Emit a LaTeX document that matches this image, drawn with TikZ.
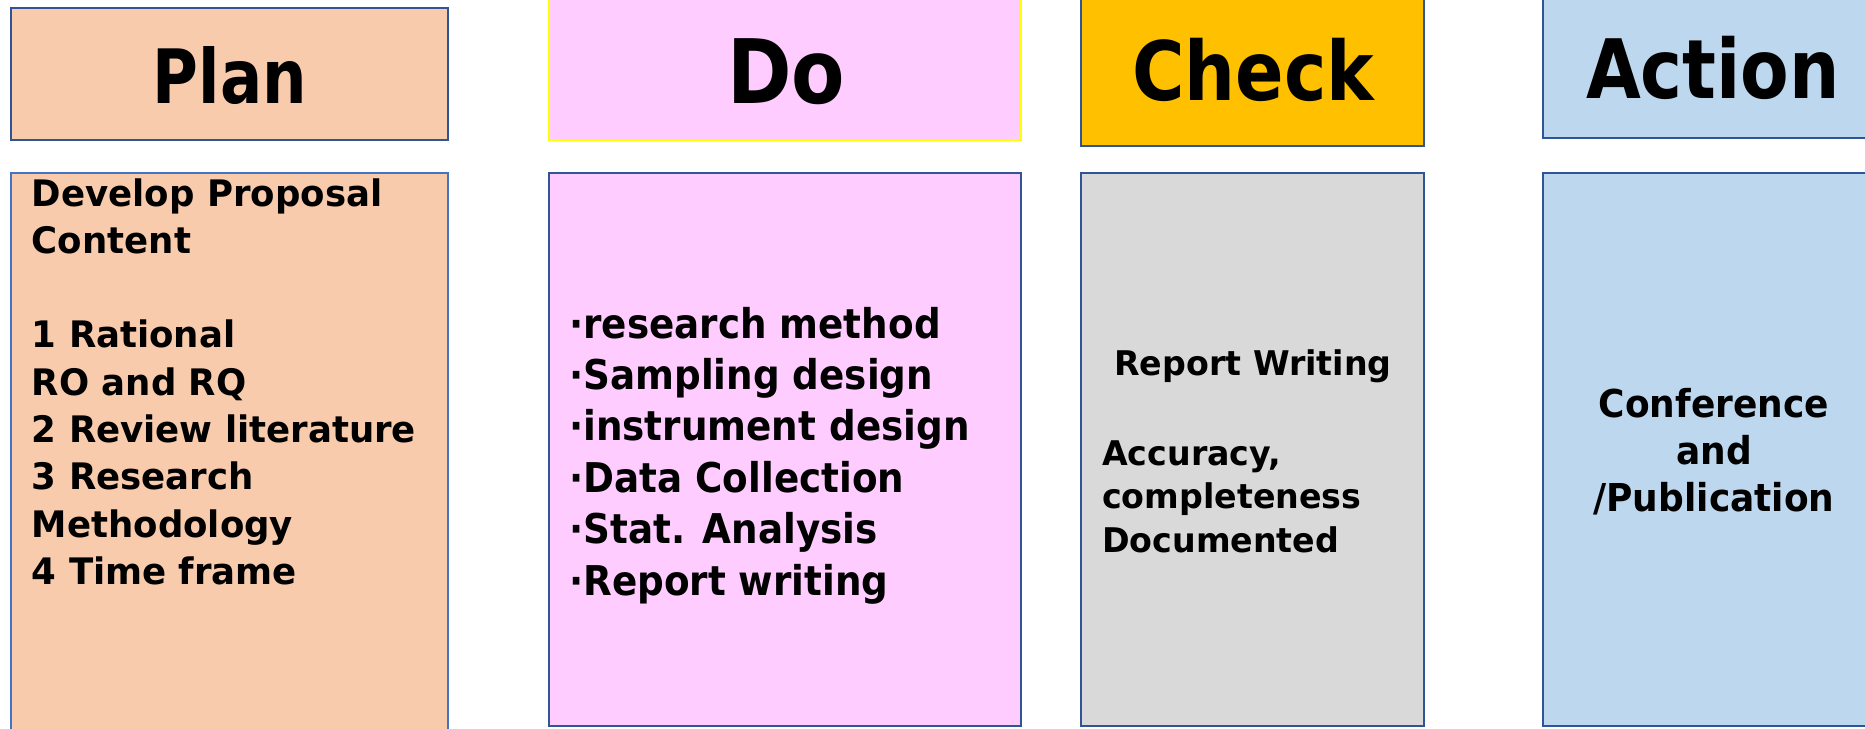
\documentclass[tikz,border=0pt]{standalone}
\usepackage{fontspec}
\usepackage{graphicx}
\setmainfont{DejaVu Sans}[FakeStretch=0.91]
\newfontfamily\titlefont{DejaVu Sans}
\definecolor{bordblue}{HTML}{2F5597}
\definecolor{lightblue}{HTML}{4472C4}
\definecolor{peach}{HTML}{F8CBAD}
\definecolor{pinkfill}{HTML}{FFCCFF}
\definecolor{yellowline}{HTML}{FFFF00}
\definecolor{amber}{HTML}{FFC000}
\definecolor{greyfill}{HTML}{D9D9D9}
\definecolor{skyfill}{HTML}{BDD7EE}
\newcommand{\dotbul}{·}
\tikzset{
  panel/.style={draw=bordblue, line width=2pt},
  titletext/.style={anchor=base, inner sep=0pt, font=\titlefont\bfseries},
  bodytext/.style={inner sep=0pt, font=\bfseries},
}
\begin{document}
\begin{tikzpicture}[x=1pt,y=-1pt]
\useasboundingbox (0,0) rectangle (1865,728);
\clip (0,0) rectangle (1865,728);
% top boxes
\draw[panel, fill=peach] (10.7,8.3) rectangle (448.4,140.4);
\draw[panel, draw=yellowline, fill=pinkfill] (548.5,-5) rectangle (1021,140.4);
\draw[panel, fill=amber] (1081,-5) rectangle (1424,146);
\draw[panel, fill=skyfill] (1543,-5) rectangle (1875,137.5);
% lower boxes
\draw[panel, draw=lightblue, fill=peach] (10.7,172.5) rectangle (448.4,740);
\draw[panel, fill=pinkfill] (548.5,172.5) rectangle (1021,725.6);
\draw[panel, fill=greyfill] (1081,172.5) rectangle (1424,725.6);
\draw[panel, fill=skyfill] (1543,172.5) rectangle (1875,725.6);
% titles
\node[titletext] (plan) at (230,103) {\resizebox{154pt}{\height}{\fontsize{75}{75}\selectfont Plan}};
\node[titletext] (do) at (786,103) {\resizebox{118pt}{\height}{\fontsize{89}{89}\selectfont Do}};
\node[titletext] (check) at (1253,100) {\resizebox{242pt}{\height}{\fontsize{82}{82}\selectfont Check}};
\node[titletext] (action) at (1713,98) {\resizebox{254pt}{\height}{\fontsize{82}{82}\selectfont Action}};
% bodies
\node[bodytext, anchor=base west] (planbody) at (31.7,206) {\scalebox{1.07}[1]{\fontsize{36.5}{47.3}\selectfont
\begin{tabular}[t]{@{}l@{}}
Develop Proposal\\
Content\\
\\
1 Rational\\
RO and RQ\\
2 Review literature\\
3 Research\\
Methodology\\
4 Time frame
\end{tabular}}};
\node[bodytext, anchor=base west] (dobody) at (569,338) {\fontsize{41}{51.4}\selectfont
\begin{tabular}[t]{@{}l@{}}
\dotbul research method\\
\dotbul Sampling design\\
\dotbul instrument design\\
\dotbul Data Collection\\
\dotbul Stat. Analysis\\
\dotbul Report writing
\end{tabular}};
\node[bodytext, anchor=base] (checkhead) at (1253,375) {\scalebox{1.075}[1]{\fontsize{34}{40}\selectfont Report Writing}};
\node[bodytext, anchor=base west] (checkbody) at (1102,465) {\scalebox{1.075}[1]{\fontsize{34}{43.5}\selectfont
\begin{tabular}[t]{@{}l@{}}
Accuracy,\\
completeness\\
Documented
\end{tabular}}};
\node[bodytext, anchor=base] (actionbody) at (1714,417) {\scalebox{1.03}[1]{\fontsize{38.4}{47}\selectfont
\begin{tabular}[t]{@{}c@{}}
Conference\\
and\\
/Publication
\end{tabular}}};
\end{tikzpicture}
\end{document}
